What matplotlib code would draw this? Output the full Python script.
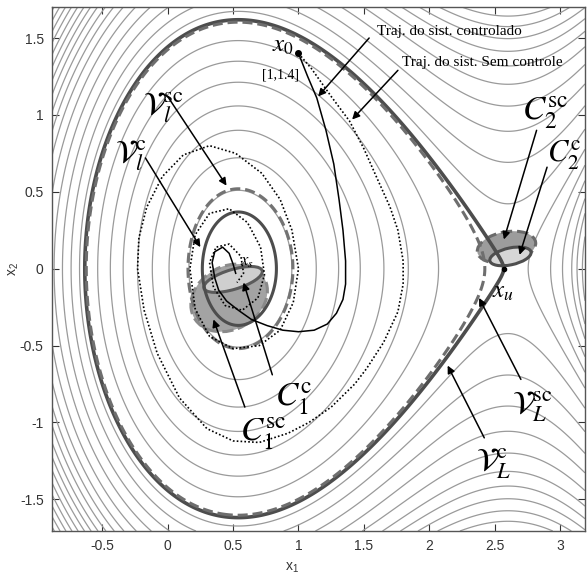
import numpy as np
import matplotlib
matplotlib.use("Agg")
import matplotlib.pyplot as plt
from matplotlib.patches import Ellipse

# energy function of the single machine system
DELTA_S = 0.54        # stable equilibrium angle
GAIN = 2.0            # potential scale
DELTA_U = np.pi - DELTA_S

XLIM = (-0.884, 3.19)
YLIM = (-1.706, 1.70)

# gray level curves
levels_inner = [0.13, 0.26, 0.405, 0.56, 0.735, 0.91, 1.10]
levels_right = [1.01, 1.053, 1.092, 1.152, 1.215, 1.29]
levels_outer = [1.40, 1.55, 1.71, 1.87, 2.03, 2.18, 2.31, 2.43, 2.55, 2.66,
                2.77, 2.88, 2.99, 3.10, 3.21, 3.32]

# estimates of the stability region
level_VL_c = 1.310
level_VL_sc = 1.285
level_Vl_c = 0.068
level_Vl_sc = 0.135

# (center x1, center x2, width, height, angle)
C1_sc = (0.47, -0.19, 0.60, 0.42, 18)
C1_c = (0.50, -0.07, 0.46, 0.13, 14)
C2_sc = (2.59, 0.14, 0.45, 0.20, 8)
C2_c = (2.62, 0.08, 0.32, 0.11, 10)

x0 = (1.0, 1.4)
x_u = (2.57, 0.0)

# controlled trajectory
traj_c_x1 = [1.00, 1.07, 1.14, 1.21, 1.27, 1.31, 1.34, 1.36, 1.36, 1.34, 1.29,
             1.22, 1.12, 1.00, 0.88, 0.76, 0.64, 0.54, 0.45, 0.39, 0.36, 0.34,
             0.36, 0.42, 0.47, 0.50, 0.52]
traj_c_x2 = [1.40, 1.25, 1.11, 0.90, 0.68, 0.45, 0.25, 0.05, -0.10, -0.20, -0.29,
             -0.36, -0.40, -0.41, -0.40, -0.37, -0.33, -0.27, -0.21, -0.14, -0.06, 0.04,
             0.11, 0.14, 0.10, 0.03, -0.03]

# uncontrolled trajectory
traj_u_x1 = [1.00, 1.10, 1.25, 1.39, 1.50, 1.61, 1.70, 1.76, 1.80, 1.80, 1.76,
             1.65, 1.52, 1.43, 1.25, 1.08, 0.92, 0.70, 0.50, 0.30, 0.09, -0.08,
             -0.18, -0.23, -0.22, -0.16, -0.04, 0.12, 0.32, 0.52, 0.72, 0.86,
             0.95, 1.00, 0.96, 0.86, 0.70, 0.50, 0.32, 0.21, 0.17, 0.21, 0.32,
             0.47, 0.61, 0.71, 0.74, 0.69, 0.57, 0.44, 0.35, 0.32, 0.37, 0.47,
             0.56, 0.58, 0.53]
traj_u_x2 = [1.40, 1.30, 1.12, 0.96, 0.78, 0.57, 0.40, 0.25, 0.05, -0.10, -0.28,
             -0.48, -0.65, -0.75, -0.90, -1.00, -1.07, -1.13, -1.12, -1.04, -0.84, -0.55,
             -0.27, 0.00, 0.20, 0.40, 0.60, 0.74, 0.80, 0.75, 0.62, 0.45,
             0.25, 0.00, -0.22, -0.40, -0.50, -0.52, -0.44, -0.26, 0.00, 0.22, 0.36,
             0.39, 0.30, 0.14, -0.04, -0.19, -0.27, -0.24, -0.12, 0.04, 0.14, 0.16,
             0.08, -0.03, -0.09]

# annotations: (text, text pos, arrow tail, arrow head, fontsize)
labels = [
    (r"$\mathcal{V}_l^{\mathrm{sc}}$", (-0.19, 1.00), (0.00, 1.12), (0.45, 0.54), 23),
    (r"$\mathcal{V}_l^{\mathrm{c}}$", (-0.40, 0.69), (-0.17, 0.72), (0.25, 0.14), 23),
    (r"$C_1^{\mathrm{sc}}$", (0.55, -1.12), (0.59, -0.90), (0.35, -0.33), 24),
    (r"$C_1^{\mathrm{c}}$", (0.82, -0.89), (0.80, -0.69), (0.58, -0.09), 24),
    (r"$C_2^{\mathrm{sc}}$", (2.71, 0.97), (2.82, 0.90), (2.57, 0.19), 24),
    (r"$C_2^{\mathrm{c}}$", (2.90, 0.70), (2.90, 0.66), (2.69, 0.09), 22),
    (r"$\mathcal{V}_L^{\mathrm{sc}}$", (2.63, -0.94), (2.70, -0.72), (2.38, -0.19), 23),
    (r"$\mathcal{V}_L^{\mathrm{c}}$", (2.36, -1.31), (2.42, -1.10), (2.14, -0.63), 23),
]
traj_labels = [
    ("Traj. do sist. controlado", (1.597, 1.54), (1.54, 1.50), (1.15, 1.12)),
    ("Traj. do sist. Sem controle", (1.79, 1.34), (1.76, 1.29), (1.41, 0.97)),
]


def energy(d, w):
    return 0.5 * w ** 2 + GAIN * (-np.sin(DELTA_S) * (d - DELTA_S)
                                  - (np.cos(d) - np.cos(DELTA_S)))


def main():
    plt.rcParams["mathtext.fontset"] = "stix"
    fig = plt.figure(figsize=(5.87, 5.81), dpi=100)
    ax = fig.add_axes([0.0886, 0.086, 0.9080, 0.9015])

    g1 = np.linspace(XLIM[0], XLIM[1], 700)
    g2 = np.linspace(YLIM[0], YLIM[1], 700)
    X1, X2 = np.meshgrid(g1, g2)
    Z = energy(X1, X2)
    Z_left = np.ma.masked_where(X1 > DELTA_U, Z)
    Z_right = np.ma.masked_where(X1 < DELTA_U, Z)

    gray = "#9a9a9a"
    ax.contour(X1, X2, Z_left, levels=levels_inner, colors=gray, linewidths=0.9)
    ax.contour(X1, X2, Z_right, levels=levels_right, colors=gray, linewidths=0.9)
    ax.contour(X1, X2, Z, levels=levels_outer, colors=gray, linewidths=0.9)

    # regions C1 and C2
    for e, fc, ec, ls in [(C1_sc, "#a3a3a3", "#8a8a8a", "--"),
                          (C1_c, "#cfcfcf", "#5a5a5a", "-"),
                          (C2_sc, "#9c9c9c", "#6a6a6a", "--"),
                          (C2_c, "#d6d6d6", "#4e4e4e", "-")]:
        ax.add_patch(Ellipse((e[0], e[1]), e[2], e[3], angle=e[4], facecolor=fc,
                             edgecolor=ec, linestyle=ls, linewidth=2.2, zorder=2))

    # stability region estimates
    ax.contour(X1, X2, Z_left, levels=[level_VL_c], colors="#4d4d4d",
               linewidths=2.6, zorder=3)
    cs = ax.contour(X1, X2, Z_left, levels=[level_VL_sc], colors="#6e6e6e",
                    linewidths=2.2, zorder=3)
    cs.set_linestyle((0, (3.3, 1.6)))
    ax.contour(X1, X2, Z_left, levels=[level_Vl_c], colors="#4d4d4d",
               linewidths=2.2, zorder=3)
    cs = ax.contour(X1, X2, Z_left, levels=[level_Vl_sc], colors="#737373",
                    linewidths=2.2, zorder=3)
    cs.set_linestyle((0, (3.3, 1.6)))

    # trajectories
    ax.plot(traj_u_x1, traj_u_x2, color="k", lw=1.2, ls=(0, (1, 1.3)), zorder=4)
    ax.plot(traj_c_x1, traj_c_x2, color="k", lw=1.1, zorder=4)
    ax.plot(*x0, "o", color="k", ms=4, zorder=5)
    ax.plot(*x_u, "o", color="k", ms=3, zorder=5)

    serif = "Liberation Serif"
    ax.text(0.80, 1.41, r"$x_0$", fontsize=18, zorder=6)
    ax.text(0.72, 1.26, "[1,1.4]", fontsize=10, family=serif, va="center", zorder=6)
    ax.text(2.48, -0.19, r"$x_u$", fontsize=18, zorder=6)
    ax.text(0.55, 0.02, r"$x_s$", fontsize=12, zorder=6)

    arrow = dict(arrowstyle="-|>", color="k", lw=1.1, mutation_scale=11,
                 shrinkA=0, shrinkB=0)
    for txt, pos, tail, head, fs in labels:
        ax.text(pos[0], pos[1], txt, fontsize=fs, zorder=6)
        ax.annotate("", xy=head, xytext=tail, arrowprops=arrow, zorder=6)
    for txt, pos, tail, head in traj_labels:
        ax.text(pos[0], pos[1], txt, fontsize=11, family=serif, va="center", zorder=6)
        ax.annotate("", xy=head, xytext=tail, arrowprops=arrow, zorder=6)

    ax.set_xlim(*XLIM)
    ax.set_ylim(*YLIM)
    ax.set_xticks([-0.5, 0, 0.5, 1, 1.5, 2, 2.5, 3])
    ax.set_xticklabels(["-0.5", "0", "0.5", "1", "1.5", "2", "2.5", "3"])
    ax.set_yticks([-1.5, -1, -0.5, 0, 0.5, 1, 1.5])
    ax.set_yticklabels(["-1.5", "-1", "-0.5", "0", "0.5", "1", "1.5"])
    ax.tick_params(direction="in", top=True, right=True, length=5, width=0.8,
                   labelsize=10, colors="#333333", pad=6)
    for lab in ax.get_xticklabels() + ax.get_yticklabels():
        lab.set_family("Liberation Sans")
    for s in ax.spines.values():
        s.set_color("#555555")
        s.set_linewidth(1.0)
    ax.set_xlabel(r"$\mathregular{x_1}$", fontsize=10, color="#333333",
                  family="Liberation Sans")
    ax.set_ylabel(r"$\mathregular{x_2}$", fontsize=10, color="#333333",
                  family="Liberation Sans")
    ax.xaxis.set_label_coords(0.45, -0.057)
    ax.yaxis.set_label_coords(-0.058, 0.5)

    fig.savefig("out.png", dpi=100)


if __name__ == "__main__":
    main()
